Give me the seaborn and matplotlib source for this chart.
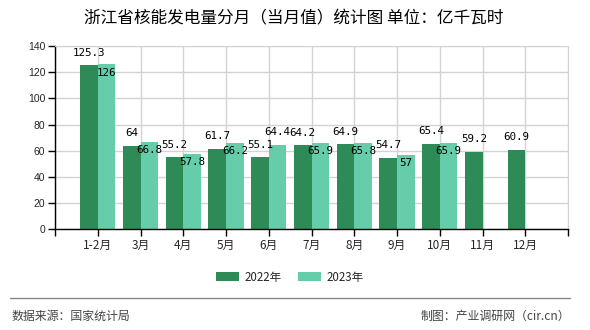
import numpy as np
import pandas as pd
import matplotlib
matplotlib.use("Agg")
import matplotlib.pyplot as plt
from matplotlib.lines import Line2D
from matplotlib.patches import Patch
import seaborn as sns

# ---- data ----
months = ["1-2月", "3月", "4月", "5月", "6月", "7月", "8月", "9月", "10月", "11月", "12月"]
series_names = ["2022年", "2023年"]
values_2022 = [125.3, 64, 55.2, 61.7, 55.1, 64.2, 64.9, 54.7, 65.4, 59.2, 60.9]
values_2023 = [126, 66.8, 57.8, 66.2, 64.4, 65.9, 65.8, 57, 65.9, np.nan, np.nan]
yticks = [0, 20, 40, 60, 80, 100, 120, 140]
title = "浙江省核能发电量分月（当月值）统计图 单位：亿千瓦时"
source_text = "数据来源：国家统计局"
credit_text = "制图：产业调研网（cir.cn）"

colors = {"2022年": "#2E8B57", "2023年": "#66CDAA"}
labels_above_2023 = {"6月"}

df = pd.DataFrame({
    "month": months * 2,
    "year": [series_names[0]] * len(months) + [series_names[1]] * len(months),
    "value": values_2022 + values_2023,
}).dropna()

sns.set_style("white")
plt.rcParams["font.family"] = ["Noto Sans CJK SC", "DejaVu Sans"]

W, H = 590, 330
fig = plt.figure(figsize=(W / 100, H / 100), dpi=100)
ax = fig.add_axes([55 / W, 1 - 229.3 / H, (568 - 55) / W, (229.3 - 46) / H])

sns.barplot(data=df, x="month", y="value", hue="year", order=months,
            hue_order=series_names, palette=colors, saturation=1,
            width=0.82, errorbar=None, linewidth=0, ax=ax, legend=False)

ax.set_xlim(-1, len(months))
ax.set_ylim(0, 140)
ax.set_xticks(range(-1, len(months) + 1))
ax.set_xticklabels([""] + months + [""], fontsize=8.5)
ax.set_yticks(yticks)
ax.set_yticklabels([str(t) for t in yticks], family=["Liberation Sans", "DejaVu Sans"], fontsize=7.5)
ax.set_xlabel("")
ax.set_ylabel("")
ax.grid(True, color="#d3d3d3", lw=1)
ax.set_axisbelow(True)
for s in ["top", "right"]:
    ax.spines[s].set_color("#d3d3d3")
for s in ["left", "bottom"]:
    ax.spines[s].set_color("black")
    ax.spines[s].set_linewidth(1)
ax.tick_params(axis="both", which="both", direction="out", length=5, width=1,
               color="black", pad=2, bottom=True, left=True)

# data labels
for cont, vals, name in zip(ax.containers, [values_2022, values_2023], series_names):
    for p in cont.patches:
        h = p.get_height()
        if not np.isfinite(h) or h == 0:
            continue
        xc = p.get_x() + p.get_width() / 2
        idx = int(round(xc))
        v = vals[idx]
        if name == series_names[0] or months[idx] in labels_above_2023:
            off = 9
        else:
            off = -6
        ax.annotate(f"{v:g}", (xc, h), xytext=(0, off), textcoords="offset points",
                    ha="center", va="center", fontsize=7.8,
                    family=["DejaVu Sans Mono"], color="black")

# title
fig.text(294 / W, 1 - 18.5 / H, title, ha="center", va="center", fontsize=12, color="black")

# legend
handles = [Patch(facecolor=colors[n], edgecolor="none", label=n) for n in series_names]
fig.legend(handles=handles, loc="center", bbox_to_anchor=(290 / W, 1 - 277 / H), ncol=2,
           frameon=False, fontsize=8.3, handlelength=2.0, handleheight=0.75,
           handletextpad=0.45, columnspacing=1.45)

# separator and footer
fig.add_artist(Line2D([10 / W, 570 / W], [1 - 297.7 / H] * 2, color="#888888", lw=1))
fig.text(12 / W, 1 - 316 / H, source_text, ha="left", va="center", fontsize=8.6, color="#444444")
fig.text(570 / W, 1 - 316 / H, credit_text, ha="right", va="center", fontsize=8.6, color="#444444")

fig.savefig("out.png", dpi=100)
